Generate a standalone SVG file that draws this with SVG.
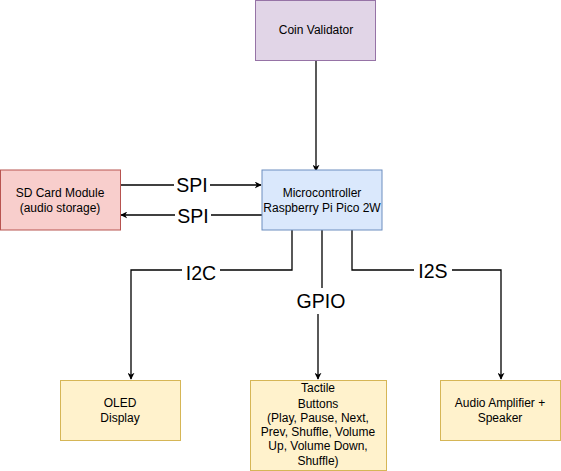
<svg xmlns="http://www.w3.org/2000/svg" width="561" height="471" viewBox="0 0 561 471">
<style>
text{font-family:"Liberation Sans",Arial,sans-serif;font-size:12px;fill:#000;text-anchor:middle;dominant-baseline:central}
.lbl{font-size:19.5px}
.e{fill:none;stroke:#000;stroke-width:1.3}
.bg{fill:#fff}
.y{fill:#fff2cc;stroke:#d6b656}
</style>
<defs>
<marker id="a" viewBox="0 0 10 10" refX="9" refY="5" markerWidth="7" markerHeight="7" orient="auto" markerUnits="userSpaceOnUse"><path d="M0,0L10,5L0,10L3,5z" fill="#000"/></marker>
</defs>
<g id="connectors">
<path class="e" d="M316,60V171" marker-end="url(#a)"/>
<path class="e" d="M120,185H261" marker-end="url(#a)"/>
<path class="e" d="M262,215H121" marker-end="url(#a)"/>
<path class="e" d="M292,230V270H131V379" marker-end="url(#a)"/>
<path class="e" d="M322,230V288M318,314V379" marker-end="url(#a)"/>
<path class="e" d="M352,230V270H501V379" marker-end="url(#a)"/>
<rect class="bg" x="174" y="175" width="36" height="20"/>
<text class="lbl" x="192" y="185">SPI</text>
<rect class="bg" x="175" y="205" width="36" height="20"/>
<text class="lbl" x="193" y="216">SPI</text>
<rect class="bg" x="182" y="261" width="38" height="20"/>
<text class="lbl" x="201" y="273">I2C</text>
<text class="lbl" x="321" y="301">GPIO</text>
<rect class="bg" x="414" y="261" width="38" height="20"/>
<text class="lbl" x="433" y="271">I2S</text>
</g>
<g id="coin">
<rect x="255.5" y="0.5" width="120" height="60" fill="#e1d5e7" stroke="#9673a6"/>
<text x="316" y="30">Coin Validator</text>
</g>
<g id="mcu">
<rect x="262" y="170" width="120" height="60" fill="#dae8fc" stroke="#6c8ebf"/>
<text x="322" y="193">Microcontroller</text>
<text x="322" y="208">Raspberry Pi Pico 2W</text>
</g>
<g id="sd">
<rect x="0.5" y="170" width="120" height="60" fill="#f8cecc" stroke="#b85450"/>
<text x="60" y="193">SD Card Module</text>
<text x="60" y="208">(audio storage)</text>
</g>
<g id="oled">
<rect class="y" x="60.5" y="380.5" width="120" height="60"/>
<text x="120" y="403">OLED</text>
<text x="120" y="418">Display</text>
</g>
<g id="buttons">
<rect class="y" x="250.5" y="380.5" width="136" height="90"/>
<text x="318" y="388">Tactile</text>
<text x="318" y="404">Buttons</text>
<text x="318" y="418">(Play, Pause, Next,</text>
<text x="318" y="432">Prev, Shuffle, Volume</text>
<text x="318" y="446">Up, Volume Down,</text>
<text x="318" y="461">Shuffle)</text>
</g>
<g id="amp">
<rect class="y" x="440.5" y="380.5" width="120" height="60"/>
<text x="500" y="403">Audio Amplifier +</text>
<text x="500" y="418">Speaker</text>
</g>
</svg>
